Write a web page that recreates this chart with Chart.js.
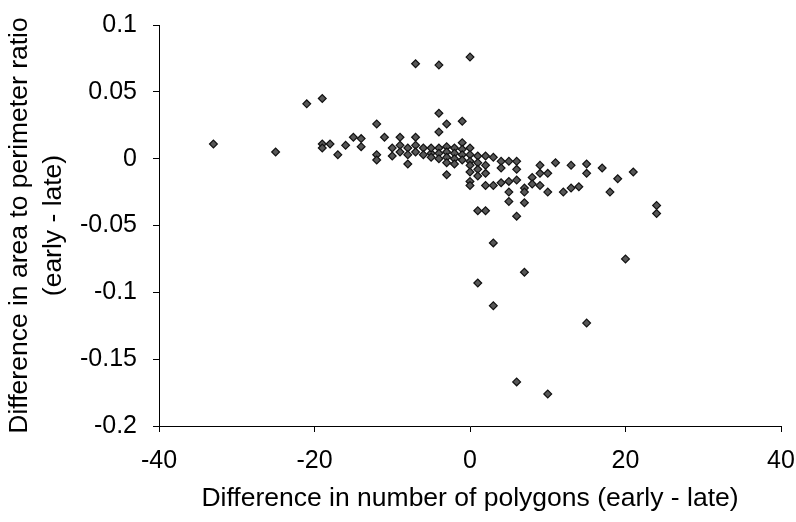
<!DOCTYPE html>
<html>
<head>
<meta charset="utf-8">
<script src="https://cdn.jsdelivr.net/npm/chart.js@4/dist/chart.umd.min.js"></script>
<style>
  html, body { margin: 0; padding: 0; background: #fff; }
  #wrap { width: 796px; height: 522px; }
</style>
</head>
<body>
<div id="wrap"><canvas id="myChart" width="796" height="522"></canvas></div>
<script>
// difference in number of polygons (early - late)
var diffPolygons = [
  -33, -25, -21, -19, -7, -4, 0,
  -12, -4, -3, -1, -4,
  -19, -19, -18, -17, -16, -15, -14, -14,
  -12, -12, -11, -10, -10, -9, -9, -9,
  -8, -8, -8, -7, -7, -7, -6, -6, -5,
  -5, -5, -4, -4, -4, -3, -3, -3, -3, -2, -2, -2, -2, -1, -1, -1, -1, 0, 0, 0,
  -3, 0, 0, 0, 0,
  1, 1, 1, 1, 2, 2, 2, 2, 3, 3, 4, 4, 4, 5, 5, 5, 5, 6, 6, 6, 7, 7, 7,
  8, 8, 9, 9, 9, 10, 10, 11, 12, 13, 13, 14, 15, 15, 17, 18, 19, 21, 24, 24,
  1, 2, 6, 3, 20, 7, 1, 3, 15, 6, 10
];
// difference in area to perimeter ratio (early - late)
var diffRatio = [
  0.011, 0.005, 0.041, 0.045, 0.071, 0.070, 0.076,
  0.026, 0.034, 0.026, 0.028, 0.020,
  0.011, 0.008, 0.011, 0.003, 0.010, 0.016, 0.015, 0.009,
  0.003, -0.001, 0.016, 0.008, 0.002, 0.016, 0.010, 0.005,
  0.008, 0.003, -0.004, 0.016, 0.010, 0.005, 0.008, 0.003, 0.004,
  0.008, 0.001, 0.008, 0.004, 0.000, 0.009, 0.005, 0.001, -0.003, 0.008, 0.004, 0.000, -0.004, 0.012, 0.007, 0.003, -0.001, 0.008, 0.003, -0.002,
  -0.012, -0.005, -0.010, -0.017, -0.020,
  0.002, -0.003, -0.008, -0.013, 0.002, -0.005, -0.011, -0.020, 0.001, -0.020, -0.002, -0.007, -0.018, -0.002, -0.017, -0.025, -0.032, -0.002, -0.008, -0.016, -0.022, -0.025, -0.033,
  -0.014, -0.019, -0.005, -0.011, -0.020, -0.011, -0.025, -0.003, -0.025, -0.005, -0.022, -0.021, -0.004, -0.011, -0.007, -0.025, -0.015, -0.010, -0.035, -0.041,
  -0.039, -0.039, -0.043, -0.063, -0.075, -0.085, -0.093, -0.110, -0.123, -0.167, -0.176
];
var xTickLabels = ['-40', '-20', '0', '20', '40'];
var yTickLabels = ['-0.2', '-0.15', '-0.1', '-0.05', '0', '0.05', '0.1'];

var puntos = [];
diffPolygons.forEach(function(x, i){
  puntos.push({ x: x, y: diffRatio[i] });
});

var familia = "'Liberation Sans', Arial, sans-serif";
var fuenteTicks = { family: familia, size: 25 };
var fuenteTitulo = { family: familia, size: 26.5, lineHeight: 1.28 };

var ctx = document.getElementById('myChart').getContext('2d');
var myChart = new Chart(ctx, {
  type: 'scatter',
  data: {
    datasets: [{
      data: puntos,
      pointStyle: 'rectRot',
      pointRadius: 3.9,
      backgroundColor: '#575757',
      borderColor: '#111',
      borderWidth: 1.2
    }]
  },
  options: {
    responsive: false,
    animation: false,
    layout: { padding: { top: 25, right: 15, left: 0, bottom: 0 } },
    plugins: {
      legend: { display: false },
      tooltip: { enabled: false }
    },
    scales: {
      x: {
        type: 'linear',
        min: -40, max: 40,
        afterFit: function(s){
          s.height = 96;
          s.paddingLeft = 0; s.paddingRight = 0;
        },
        afterBuildTicks: function(s){
          s.ticks = xTickLabels.map(function(t){ return { value: parseFloat(t) }; });
        },
        ticks: {
          color: '#000', font: fuenteTicks, padding: 14, maxRotation: 0,
          callback: function(v, i){ return xTickLabels[i]; }
        },
        grid: { drawOnChartArea: false, tickLength: 6, color: '#000', lineWidth: 1 },
        border: { color: '#000', width: 1 },
        title: { display: true, text: 'Difference in number of polygons (early - late)', color: '#000', font: fuenteTitulo, padding: { top: 0, bottom: 6 } }
      },
      y: {
        type: 'linear',
        min: -0.2, max: 0.1,
        afterFit: function(s){
          s.width = 159;
          s.paddingTop = 0; s.paddingBottom = 0;
        },
        afterBuildTicks: function(s){
          s.ticks = yTickLabels.map(function(t){ return { value: parseFloat(t) }; });
        },
        ticks: {
          color: '#000', font: fuenteTicks, padding: 16,
          callback: function(v, i){ return yTickLabels[i]; }
        },
        grid: { drawOnChartArea: false, tickLength: 6, color: '#000', lineWidth: 1 },
        border: { color: '#000', width: 1 },
        title: { display: true, text: ['Difference in area to perimeter ratio', '(early - late)'], color: '#000', font: fuenteTitulo, padding: { top: 2.5, bottom: 0 } }
      }
    }
  }
});

// ajustar el area del grafico al de la referencia
for (var k = 0; k < 2; k++) {
  var area = myChart.chartArea;
  myChart.options.layout.padding.top = Math.max(0, myChart.options.layout.padding.top + 25 - area.top);
  myChart.options.layout.padding.right = Math.max(0, myChart.options.layout.padding.right + area.right - 781);
  myChart.update();
}
</script>
</body>
</html>
